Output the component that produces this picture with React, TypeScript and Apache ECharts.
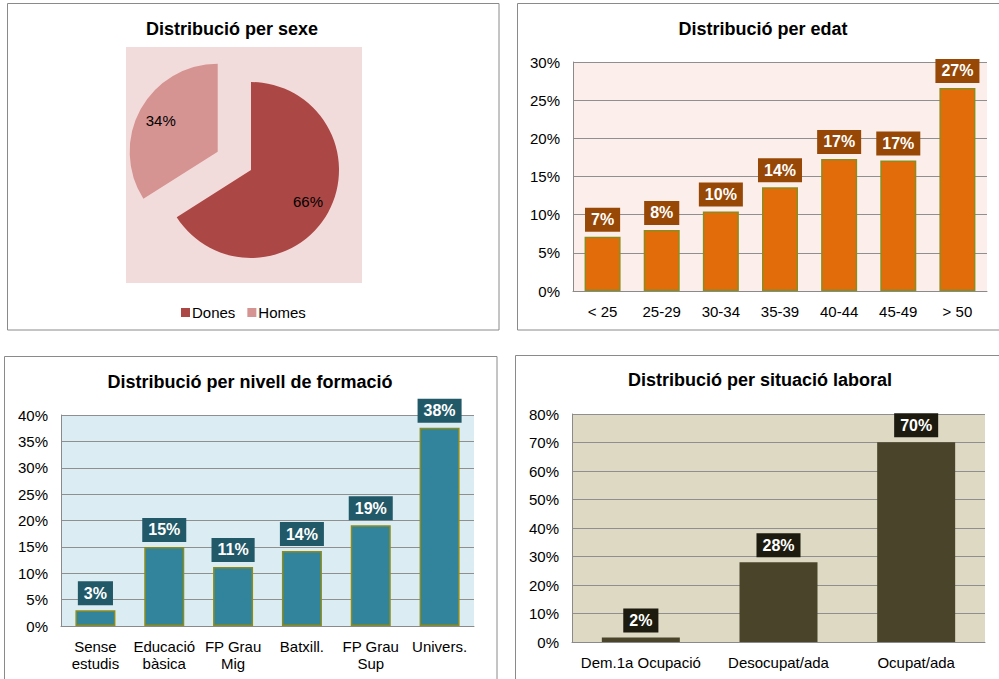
import React, { useEffect, useRef } from "react";
import * as echarts from "echarts";

// ---- Data ----
const sexNames = ["Dones", "Homes"];
const sexValues = [66, 34];

const ageCats = ["< 25", "25-29", "30-34", "35-39", "40-44", "45-49", "> 50"];
const ageValues = [7.1, 8.0, 10.4, 13.6, 17.3, 17.1, 26.6];
const ageTicks = { min: 0, max: 30, interval: 5 };

const eduCats = ["Sense\nestudis", "Educació\nbàsica", "FP Grau\nMig", "Batxill.", "FP Grau\nSup", "Univers."];
const eduValues = [3.0, 15.0, 11.2, 14.2, 19.1, 37.6];
const eduTicks = { min: 0, max: 40, interval: 5 };

const jobCats = ["Dem.1a Ocupació", "Desocupat/ada", "Ocupat/ada"];
const jobValues = [1.6, 28.0, 70.1];
const jobTicks = { min: 0, max: 80, interval: 10 };

const titles = [
  "Distribució per sexe",
  "Distribució per edat",
  "Distribució per nivell de formació",
  "Distribució per situació laboral",
];

const FONT = '"Liberation Sans", Arial, Helvetica, sans-serif';

export default function App() {
  const ref = useRef<HTMLDivElement>(null);
  useEffect(() => {
    if (!ref.current) return;
    const chart = echarts.init(ref.current, undefined, { renderer: "svg" });

    const grids = [
      { left: 573, top: 62, width: 414, height: 229, bg: "#fcefeb" },
      { left: 61, top: 415, width: 413, height: 211, bg: "#dbedf3" },
      { left: 572, top: 414, width: 413, height: 228, bg: "#ddd9c3" },
    ];
    const cats = [ageCats, eduCats, jobCats];
    const ticks = [ageTicks, eduTicks, jobTicks];
    const vals = [ageValues, eduValues, jobValues];
    const barColors = ["#e36c0a", "#31849b", "#4a452a"];
    const labelBg = ["#974806", "#215968", "#1d1b10"];
    const borders = ["#8c8c1e", "#8c8c1e", "#4a452a"];
    const barWidths = [36, 40, 78];

    const pctLabel = (p: any) => Math.round(p.value) + "%";

    const option: any = {
      animation: false,
      textStyle: { fontFamily: FONT },
      graphic: [
        { type: "rect", shape: { x: 7.5, y: 3.5, width: 491.5, height: 326.5 }, style: { fill: "#fff", stroke: "#8a8a8a", lineWidth: 1 }, z: -10 },
        { type: "rect", shape: { x: 517.5, y: 3.5, width: 500, height: 326.5 }, style: { fill: "#fff", stroke: "#8a8a8a", lineWidth: 1 }, z: -10 },
        { type: "rect", shape: { x: 4.5, y: 356.5, width: 492.5, height: 340 }, style: { fill: "#fff", stroke: "#8a8a8a", lineWidth: 1 }, z: -10 },
        { type: "rect", shape: { x: 515.5, y: 355.5, width: 500, height: 340 }, style: { fill: "#fff", stroke: "#8a8a8a", lineWidth: 1 }, z: -10 },
        { type: "rect", shape: { x: 126, y: 47, width: 236, height: 236 }, style: { fill: "#f2dcdb" }, z: -5 },
        ...titles.map((t, i) => ({
          type: "text",
          x: [232, 763, 250, 760][i],
          y: [29, 29, 382, 380][i],
          style: {
            text: t,
            fontFamily: FONT,
            fontSize: 18,
            fontWeight: "bold",
            fill: "#000",
            textAlign: "center",
            textVerticalAlign: "middle",
          },
        })),
      ],
      legend: {
        left: 176,
        top: 300,
        icon: "rect",
        itemWidth: 9,
        itemHeight: 9,
        itemGap: 12,
        textStyle: { fontSize: 15, color: "#000", fontFamily: FONT, padding: [0, 0, 0, -3] },
        data: [
          { name: sexNames[0], itemStyle: { color: "#ab4745" } },
          { name: sexNames[1], itemStyle: { color: "#d59392" } },
        ],
        selectedMode: false,
      },
      grid: grids.map((g) => ({
        left: g.left,
        top: g.top,
        width: g.width,
        height: g.height,
        show: true,
        backgroundColor: g.bg,
        borderWidth: 0,
      })),
      xAxis: grids.map((_, i) => ({
        type: "category",
        gridIndex: i,
        data: cats[i],
        axisLine: { show: true, lineStyle: { color: "#8a8a8a", width: 1 } },
        axisTick: { show: false },
        axisLabel: {
          color: "#000",
          fontSize: 15,
          fontFamily: FONT,
          margin: 12,
          lineHeight: 17,
          interval: 0,
        },
      })),
      yAxis: grids.map((_, i) => ({
        type: "value",
        gridIndex: i,
        min: ticks[i].min,
        max: ticks[i].max,
        interval: ticks[i].interval,
        axisLine: { show: true, lineStyle: { color: "#8a8a8a", width: 1 } },
        axisTick: { show: false },
        splitLine: { show: true, lineStyle: { color: "#8f8f8f", width: 1 } },
        axisLabel: {
          color: "#000",
          fontSize: 15,
          fontFamily: FONT,
          margin: 13,
          formatter: (v: number) => v + "%",
        },
      })),
      series: [
        {
          type: "pie",
          center: [251, 170],
          radius: [0, 88],
          startAngle: 90,
          clockwise: true,
          selectedMode: "multiple",
          selectedOffset: 38,
          silent: true,
          emphasis: { disabled: true },
          label: { show: false },
          labelLine: { show: false },
          data: [
            { name: sexNames[0], value: sexValues[0], itemStyle: { color: "#ab4745" } },
            { name: sexNames[1], value: sexValues[1], selected: true, itemStyle: { color: "#d59392" } },
          ],
        },
        {
          type: "pie",
          center: [251, 170],
          radius: [36, 88],
          startAngle: 90,
          clockwise: true,
          selectedMode: "multiple",
          selectedOffset: 38,
          silent: true,
          emphasis: { disabled: true },
          label: {
            show: true,
            position: "inside",
            formatter: (p: any) => p.value + "%",
            color: "#000",
            fontSize: 15,
            fontFamily: FONT,
          },
          labelLine: { show: false },
          itemStyle: { color: "rgba(0,0,0,0)" },
          data: [
            { name: sexNames[0], value: sexValues[0] },
            { name: sexNames[1], value: sexValues[1], selected: true },
          ],
        },
        ...vals.map((v, i) => ({
          type: "bar",
          xAxisIndex: i,
          yAxisIndex: i,
          data: v,
          barWidth: barWidths[i],
          itemStyle: {
            color: barColors[i],
            borderColor: borders[i],
            borderWidth: i === 2 ? 0 : 1.5,
          },
          emphasis: { disabled: true },
          silent: true,
          label: {
            show: true,
            position: "top",
            distance: 5,
            formatter: pctLabel,
            color: "#fff",
            fontWeight: "bold",
            fontSize: 16,
            fontFamily: FONT,
            lineHeight: 18,
            backgroundColor: labelBg[i],
            padding: [3, 6, 3, 6],
          },
        })),
      ],
    };

    chart.setOption(option);
    return () => chart.dispose();
  }, []);

  return (
    <div
      ref={ref}
      style={{ position: "absolute", left: 0, top: 0, width: 999, height: 679, background: "#fff" }}
    />
  );
}
